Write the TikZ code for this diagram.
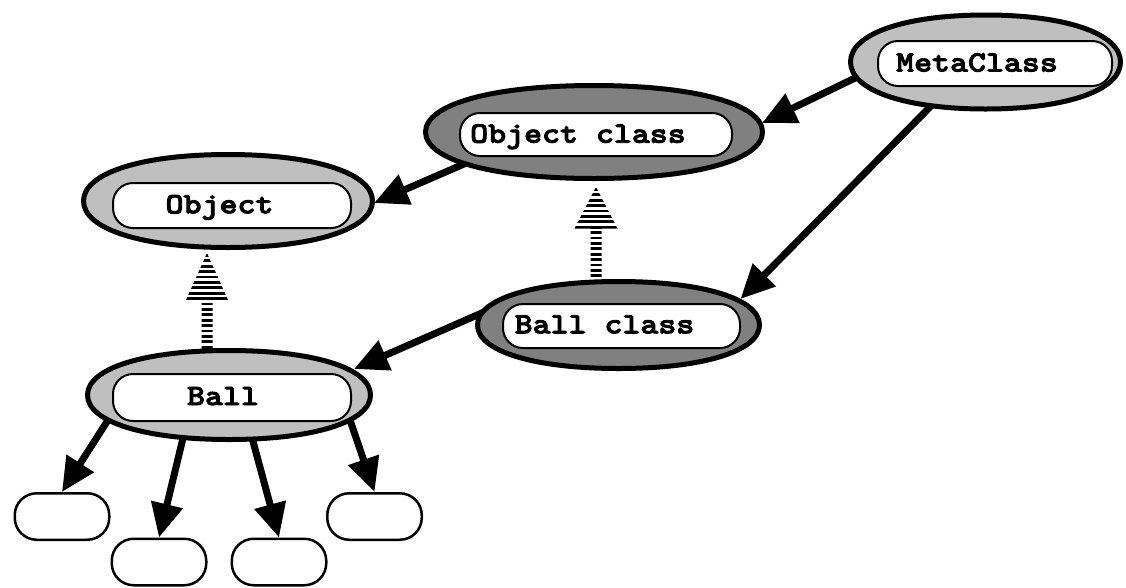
\documentclass[tikz,border=0pt]{standalone}
\usepackage{fontspec}
\newfontfamily\codefont{lmmonolt10-bold.otf}[FakeStretch=1.16,FakeBold=3]
\usetikzlibrary{arrows.meta,calc}

\definecolor{ovallight}{gray}{0.75}
\definecolor{ovaldark}{gray}{0.5}

\tikzset{
  oframe/.style={rectangle, inner sep=0pt, outer sep=0pt, draw=none},
  ovalline/.style={line width=5pt, draw=black, line join=round},
  lightoval/.style={ovalline, fill=ovallight},
  darkoval/.style={ovalline, fill=ovaldark},
  namebox/.style={rectangle, draw=black, line width=2pt, fill=white,
    rounded corners=20pt, inner sep=0pt},
  leafbox/.style={namebox, line width=2.5pt, rounded corners=22pt,
    minimum width=94.5pt, minimum height=46.5pt},
  classname/.style={font=\codefont\fontsize{29.5pt}{36pt}\selectfont,
    inner sep=0pt, anchor=base},
  link/.style={line width=7pt, -{Triangle[length=34pt,width=31pt]}},
}

% full oval through the four side midpoints of a frame node
\newcommand\drawoval[2]{%
  \draw[#2] (#1.east)
    .. controls ($(#1.east)!0.6!(#1.north east)$) and ($(#1.north)!0.6!(#1.north east)$) .. (#1.north)
    .. controls ($(#1.north)!0.6!(#1.north west)$) and ($(#1.west)!0.6!(#1.north west)$) .. (#1.west)
    .. controls ($(#1.west)!0.6!(#1.south west)$) and ($(#1.south)!0.6!(#1.south west)$) .. (#1.south)
    .. controls ($(#1.south)!0.6!(#1.south east)$) and ($(#1.east)!0.6!(#1.south east)$) .. (#1.east)
    -- cycle;}

% striped upward arrow: #1 tail, #2 tip, #3 head length
\newcommand\hatchedarrow[3]{%
  \begin{scope}
    \clip let \p1=(#2), \p2=(#1) in
      (\x1,\y1) -- (\x1+21.5pt,\y1-#3) -- (\x1+5.5pt,\y1-#3) -- (\x1+5.5pt,\y2)
      -- (\x1-5.5pt,\y2) -- (\x1-5.5pt,\y1-#3) -- (\x1-21.5pt,\y1-#3) -- cycle;
    \foreach \k in {0,...,24} {
      \fill let \p1=(#2) in
        (\x1-30pt,\y1-1.0pt-\k*5.4pt) rectangle (\x1+30pt,\y1-3.8pt-\k*5.4pt);
    }
  \end{scope}}

\begin{document}
\begin{tikzpicture}[x=1pt,y=-1pt]
\useasboundingbox (0,0) rectangle (1126,587);

% frames of the class ovals
\node[oframe, minimum width=270pt, minimum height=94pt] (meta) at (985.5,62) {};
\node[oframe, minimum width=337pt, minimum height=93pt] (objclass) at (594,132) {};
\node[oframe, minimum width=289pt, minimum height=93pt] (object) at (228,201) {};
\node[oframe, minimum width=282pt, minimum height=87pt] (ballclass) at (618.5,325) {};
\node[oframe, minimum width=283pt, minimum height=89pt] (ball) at (229,395) {};

% instances
\node[leafbox] (leaf1) at (62,516.5) {};
\node[leafbox] (leaf2) at (159,562) {};
\node[leafbox] (leaf3) at (279,562) {};
\node[leafbox] (leaf4) at (374.5,516.5) {};

% instance-of links
\draw[link] ($(meta.center)+(-125,13.4)$) -- ($(objclass.center)+(168,-9)$);
\draw[link] ($(meta.center)+(-49.9,39.3)$) -- ($(ballclass.center)+(122,-26)$);
\draw[link] ($(objclass.center)+(-124.7,29.7)$) -- ($(object.center)+(146,2)$);
\draw[link] ($(ballclass.center)+(-129,-15.4)$) -- ($(ball.center)+(125,-26)$);
\draw[link] ($(ball.center)+(-117.8,20)$) -- (leaf1.north);
\draw[link] ($(ball.center)+(-45,39)$) -- (leaf2.north);
\draw[link] ($(ball.center)+(22,39)$) -- (leaf3.north);
\draw[link] ($(ball.center)+(118.4,17.4)$) -- (leaf4.north);

% inheritance links
\hatchedarrow{$(ballclass.center)+(-22.5,-35)$}{$(objclass.center)+(2,55)$}{41.5pt}
\hatchedarrow{$(ball.center)+(-22,-35)$}{$(object.center)+(-21,52)$}{48pt}

% class ovals
\drawoval{meta}{lightoval}
\drawoval{objclass}{darkoval}
\drawoval{object}{lightoval}
\drawoval{ballclass}{darkoval}
\drawoval{ball}{lightoval}

% name plates
\node[namebox, minimum width=234pt, minimum height=45pt] (metabox) at (995,63.5) {};
\node[namebox, minimum width=272pt, minimum height=43pt] (objclassbox) at (596,134.5) {};
\node[namebox, minimum width=238pt, minimum height=45pt] (objectbox) at (232,205.5) {};
\node[namebox, minimum width=237pt, minimum height=44pt] (ballclassbox) at (621.5,326) {};
\node[namebox, minimum width=238pt, minimum height=47pt] (ballbox) at (232,397.5) {};

\node[classname] (metaname) at (977,71.5) {MetaClass};
\node[classname] (objclassname) at (578,142.7) {Object class};
\node[classname] (objectname) at (219.5,213.3) {Object};
\node[classname] (ballclassname) at (604.5,333.3) {Ball class};
\node[classname] (ballname) at (223,405) {Ball};
\end{tikzpicture}
\end{document}
